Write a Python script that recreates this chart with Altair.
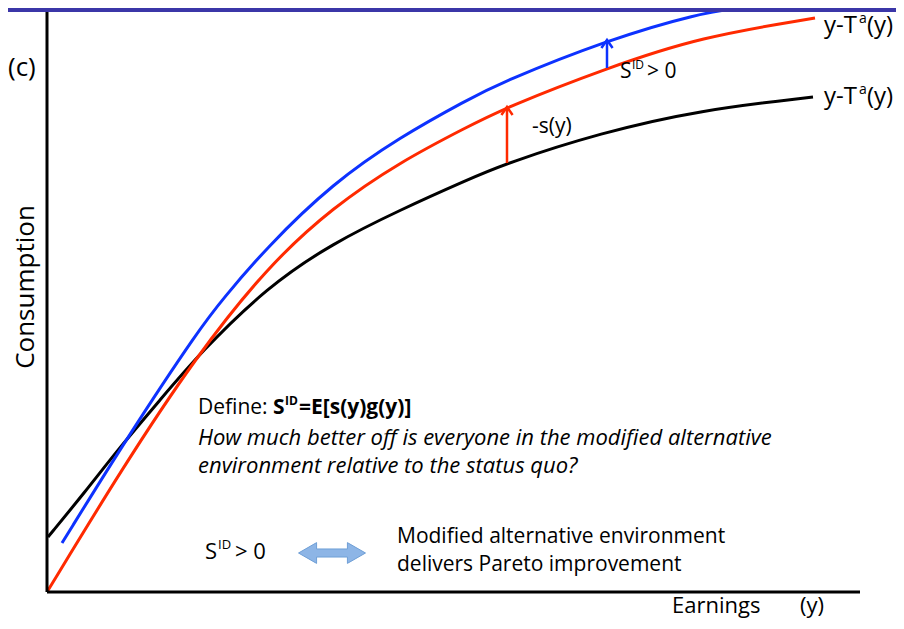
import altair as alt
import pandas as pd

# ---- curve data (Earnings, Consumption) ----
black_x = [1, 38, 73, 113, 153, 220, 286, 353, 420, 460, 553, 653, 766]
black_y = [55, 100, 145, 192, 239, 305, 349, 382, 412, 429, 459, 482, 495]

red_x = [0, 76, 148, 220, 286, 353, 420, 460, 560, 653, 768]
red_y = [0, 125, 234, 325, 385, 430, 465, 485, 524, 555, 574]

blue_x = [15, 83, 153, 175, 220, 286, 353, 420, 453, 560, 653, 693]
blue_y = [49, 159, 264, 292, 345, 409, 455, 492, 509, 552, 579, 584]

# arrows: x, base, tip
arrow_x = [460, 560]
arrow_base = [429, 524]
arrow_tip = [485, 552]
arrow_color = ["#ff2a00", "#0d32ff"]

# axis extents
x_axis_end = 813
y_axis_top = 584

# ---- text annotations ----
norm_text = ["(c)", "y-T", "a", "(y)", "y-T", "a", "(y)", "-s(y)",
             "S", "ID", "> 0", "S", "ID", "> 0", "Define:",
             "Modified alternative environment", "delivers Pareto improvement",
             "Earnings", "(y)"]
norm_x = [-39, 777, 812, 820, 777, 812, 820, 485,
          573, 585, 600, 158, 171, 188, 151,
          350, 350, 625, 753]
norm_y = [524, 566, 573, 566, 495, 502, 495, 465,
          520, 527, 520, 40, 47, 40, 184,
          55, 27, -14, -14]
norm_size = [26, 24, 14, 24, 24, 14, 24, 21,
             21, 12, 21, 22, 13, 22, 21,
             21, 21, 22, 22]

bold_text = ["S", "ID", "=E[s(y)g(y)]"]
bold_x = [226, 238, 252]
bold_y = [184, 191, 184]
bold_size = [21, 12, 21]

ital_text = ["How much better off is everyone in the modified alternative",
             "environment relative to the status quo?"]
ital_x = [151, 151]
ital_y = [154, 126]

ylabel_text = ["Consumption"]
ylabel_x = [-21]
ylabel_y = [305]

FONT = "Open Sans"
X = alt.Scale(domain=[-39, 849])
Y = alt.Scale(domain=[-29, 584])

def xe(f="x"):
    return alt.X(f"{f}:Q", scale=X, axis=None)

def ye(f="y"):
    return alt.Y(f"{f}:Q", scale=Y, axis=None)

curves = pd.concat([
    pd.DataFrame({"x": black_x, "y": black_y, "c": "black"}),
    pd.DataFrame({"x": red_x, "y": red_y, "c": "red"}),
    pd.DataFrame({"x": blue_x, "y": blue_y, "c": "blue"}),
])

curve_layer = alt.Chart(curves).mark_line(
    strokeWidth=3, interpolate="basis", strokeCap="butt"
).encode(
    x=xe(), y=ye(), detail="c:N",
    color=alt.Color("c:N", scale=alt.Scale(domain=["black", "red", "blue"],
                                            range=["#000000", "#ff2a00", "#0d32ff"]),
                    legend=None),
)

axes_df = pd.DataFrame({"x": [0, 0], "x2": [0, x_axis_end], "y": [0, 0], "y2": [y_axis_top, 0]})
axes_layer = alt.Chart(axes_df).mark_rule(strokeWidth=3, color="black").encode(
    x=xe(), x2="x2:Q", y=ye(), y2="y2:Q")

band_df = pd.DataFrame({"x": [-39], "x2": [849], "y": [580], "y2": [584]})
band_layer = alt.Chart(band_df).mark_rect(color="#3b36a8").encode(
    x=xe(), x2="x2:Q", y=ye(), y2="y2:Q")

arr_df = pd.DataFrame({"x": arrow_x, "y": arrow_base, "y2": arrow_tip, "c": arrow_color})
arr_shaft = alt.Chart(arr_df).mark_rule(strokeWidth=2.5).encode(
    x=xe(), y=ye(), y2="y2:Q", color=alt.Color("c:N", scale=None))
arr_head = alt.Chart(arr_df).mark_point(
    shape="M-0.7,1L0,0L0.7,1", filled=False, strokeWidth=2.5, size=256, opacity=1
).encode(x=xe(), y=ye("y2"), stroke=alt.Stroke("c:N", scale=None))

dbl_df = pd.DataFrame({"x": [285], "y": [39]})
dbl_arrow = alt.Chart(dbl_df).mark_point(
    shape="M-1,0L-0.46,-0.31L-0.46,-0.12L0.46,-0.12L0.46,-0.31L1,0L0.46,0.31L0.46,0.12L-0.46,0.12L-0.46,0.31Z",
    filled=True, fill="#8db5e6", stroke="#6f9fd6", strokeWidth=1, size=4489, opacity=1
).encode(x=xe(), y=ye())

norm_df = pd.DataFrame({"x": norm_x, "y": norm_y, "t": norm_text, "s": norm_size})
norm_layer = alt.Chart(norm_df).mark_text(
    align="left", baseline="middle", font=FONT, color="black"
).encode(x=xe(), y=ye(), text="t:N", size=alt.Size("s:Q", scale=None))

bold_df = pd.DataFrame({"x": bold_x, "y": bold_y, "t": bold_text, "s": bold_size})
bold_layer = alt.Chart(bold_df).mark_text(
    align="left", baseline="middle", font=FONT, fontWeight="bold", color="black"
).encode(x=xe(), y=ye(), text="t:N", size=alt.Size("s:Q", scale=None))

ital_df = pd.DataFrame({"x": ital_x, "y": ital_y, "t": ital_text})
ital_layer = alt.Chart(ital_df).mark_text(
    align="left", baseline="middle", font=FONT, fontStyle="italic", fontSize=22, color="black"
).encode(x=xe(), y=ye(), text="t:N")

ylab_df = pd.DataFrame({"x": ylabel_x, "y": ylabel_y, "t": ylabel_text})
ylab_layer = alt.Chart(ylab_df).mark_text(
    align="center", baseline="middle", font=FONT, fontSize=26, angle=270, color="black"
).encode(x=xe(), y=ye(), text="t:N")

chart = alt.layer(
    curve_layer, axes_layer, arr_shaft, arr_head, dbl_arrow, band_layer,
    norm_layer, bold_layer, ital_layer, ylab_layer
).properties(
    width=888, height=613, padding=0,
    autosize=alt.AutoSizeParams(type="none"),
    background="white",
).configure_view(stroke=None)

chart.save("out.html", embed_options={"renderer": "svg", "actions": False})
